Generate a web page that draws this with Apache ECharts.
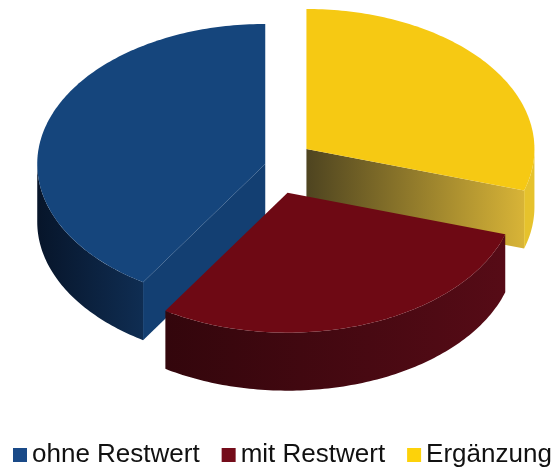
<!DOCTYPE html>
<html>
<head>
<meta charset="utf-8">
<script src="https://cdn.jsdelivr.net/npm/echarts@6/dist/echarts.min.js"></script>
<style>
html,body{margin:0;padding:0;background:#fff;}
#chart{width:557px;height:468px;}
</style>
</head>
<body>
<div id="chart"></div>
<script>
// ---- data ----
const categories = ['ohne Restwert', 'mit Restwert', 'Ergänzung'];
const values = [41, 29.2, 29.8];

// ---- styles ----
const legendColors = ['#1a4a88', '#740c1a', '#fdd20a'];
const faceStyles = [
  { top: '#15457c', cut: '#133f72', wall: ['#07152a', '#0f2d52'] },
  { top: '#6e0914', cut: '#4a0810', wall: ['#33060c', '#560b16'] },
  { top: '#f6c913', cut: ['#4e4420', '#d8b437'], wall: ['#e6c22c', '#e6c22c'] }
];
const layout = { cx: 271, cy: 165, rx: 228, ry: 140, depth: 58, startAngle: 90, explode: [6, 48, 44] };
const drawOrder = [0, 2, 1];

function grad(c) {
  if (Array.isArray(c)) {
    return new echarts.graphic.LinearGradient(0, 0, 1, 0, [
      { offset: 0, color: c[0] }, { offset: 1, color: c[1] }
    ]);
  }
  return c;
}

function makeRender(idx) {
  return function (params, api) {
    const total = values.reduce((a, b) => a + b, 0);
    let start = layout.startAngle;
    for (let j = 0; j < idx; j++) start += values[j] / total * 360;
    const end = start + api.value(0) / total * 360;
    const mid = (start + end) / 2 * Math.PI / 180;
    const e = layout.explode[idx];
    const ox = layout.cx + e * Math.cos(mid);
    const oy = layout.cy - e * (layout.ry / layout.rx) * Math.sin(mid);
    const P = (deg, r, z) => {
      const t = deg * Math.PI / 180;
      return [ox + r * layout.rx * Math.cos(t), oy - r * layout.ry * Math.sin(t) + z];
    };
    const arc = (a, b, z) => {
      const pts = [];
      const n = Math.max(2, Math.ceil(Math.abs(b - a)));
      for (let k = 0; k <= n; k++) pts.push(P(a + (b - a) * k / n, 1, z));
      return pts;
    };
    const st = faceStyles[idx];
    const children = [];
    const h = layout.depth;
    const cs = Math.cos(start * Math.PI / 180), ce = Math.cos(end * Math.PI / 180);
    if (cs > 0.01) {
      children.push({ type: 'polygon', shape: { points: [P(start, 0, 0), P(start, 1, 0), P(start, 1, h), P(start, 0, h)] },
        style: { fill: grad(st.cut), stroke: null } });
    }
    if (ce < -0.01) {
      children.push({ type: 'polygon', shape: { points: [P(end, 0, 0), P(end, 1, 0), P(end, 1, h), P(end, 0, h)] },
        style: { fill: grad(st.cut), stroke: null } });
    }
    [[180, 360], [540, 720]].forEach(function (rg) {
      const a = Math.max(start, rg[0]), b = Math.min(end, rg[1]);
      if (b > a) {
        const pts = arc(a, b, 0).concat(arc(b, a, h));
        children.push({ type: 'polygon', shape: { points: pts }, style: { fill: grad(st.wall), stroke: null } });
      }
    });
    const topPts = [P(start, 0, 0)].concat(arc(start, end, 0));
    children.push({ type: 'polygon', shape: { points: topPts }, style: { fill: st.top, stroke: null } });
    return { type: 'group', children: children };
  };
}

const chart = echarts.init(document.getElementById('chart'), null, { renderer: 'canvas' });
const series = drawOrder.map(function (i) {
  return {
    type: 'custom',
    name: categories[i],
    coordinateSystem: 'none',
    color: legendColors[i],
    itemStyle: { color: legendColors[i] },
    data: [[values[i]]],
    renderItem: makeRender(i),
    silent: true
  };
});
chart.setOption({
  animation: false,
  backgroundColor: '#ffffff',
  legend: {
    data: categories,
    bottom: -5,
    left: 8,
    icon: 'rect',
    itemWidth: 14,
    itemHeight: 14,
    itemGap: 22,
    textStyle: { fontSize: 26, fontFamily: 'Liberation Sans', color: '#111' }
  },
  series: series
});
</script>
</body>
</html>
